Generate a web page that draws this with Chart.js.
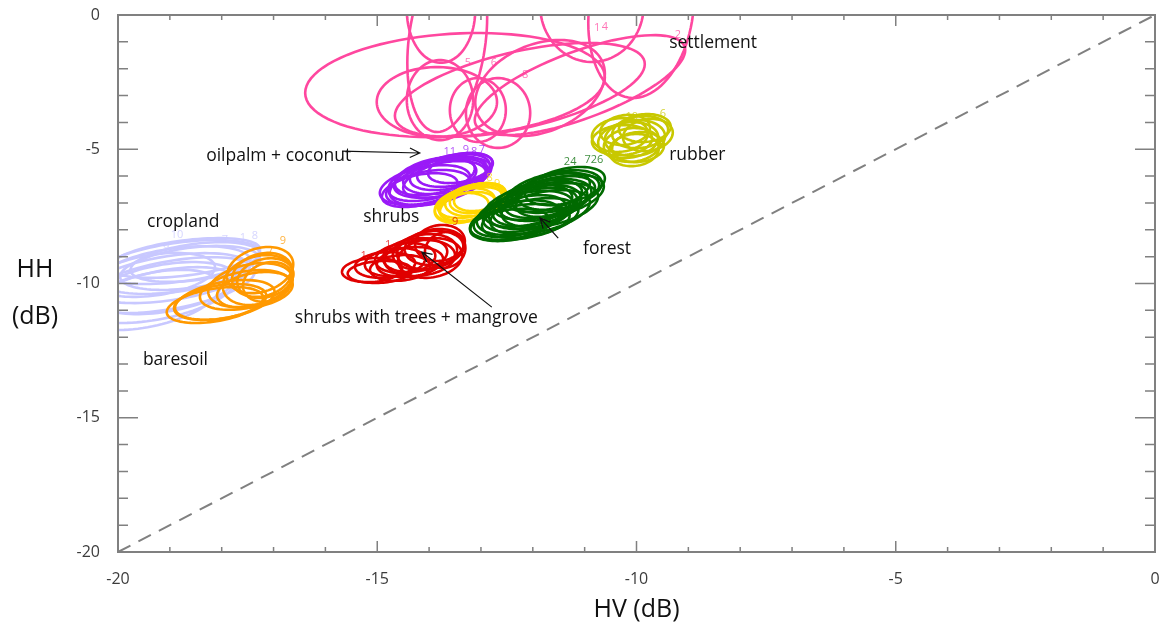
<!DOCTYPE html>
<html>
<head>
<meta charset="utf-8">
<script src="https://cdn.jsdelivr.net/npm/chart.js@4.4.1/dist/chart.umd.min.js"></script>
<style>
  html, body { margin: 0; padding: 0; background: #fff; }
  #wrap { width: 1159px; height: 630px; }
</style>
</head>
<body>
<div id="wrap"><canvas id="scatterChart" width="1159" height="630"></canvas></div>
<script>
// ellipse rows: [HV centre, HH centre, HV spread, HH spread, correlation]
const settlement = [
  [-13.50, -2.61, 2.89, 1.94, 0.15],
  [-11.09, -2.61, 2.03, 1.86, 0.70],
  [-12.25, -2.79, 2.41, 1.75, 0.55],
  [-13.77, 0.19, 0.66, 1.97, 0.00],
  [-13.65, -0.93, 0.77, 3.43, 0.25],
  [-10.86, 0.37, 1.00, 2.12, 0.00],
  [-9.91, 0.19, 1.02, 3.28, 0.15],
  [-13.85, -3.24, 1.16, 1.30, 0.00],
  [-13.79, -3.17, 0.64, 1.49, 0.00],
  [-12.67, -3.65, 0.62, 1.30, 0.00],
  [-13.06, -3.54, 0.54, 1.19, 0.00],
  [-11.86, -2.72, 1.25, 1.79, 0.30]
];
const oilpalm = [
  [-14.08, -6.33, 0.87, 0.74, 0.40],
  [-13.94, -6.15, 0.85, 0.78, 0.45],
  [-13.79, -6.07, 0.89, 0.74, 0.40],
  [-13.69, -5.96, 0.81, 0.71, 0.35],
  [-13.60, -5.85, 0.77, 0.67, 0.40],
  [-13.83, -6.26, 0.93, 0.82, 0.45],
  [-14.02, -6.44, 0.81, 0.67, 0.35],
  [-13.50, -5.77, 0.73, 0.63, 0.40],
  [-13.65, -6.07, 0.85, 0.74, 0.50],
  [-13.89, -6.00, 0.77, 0.71, 0.40],
  [-13.40, -5.70, 0.62, 0.56, 0.35],
  [-14.18, -6.52, 0.73, 0.63, 0.40]
];
const shrubs = [
  [-13.31, -7.08, 0.58, 0.63, 0.30],
  [-13.21, -6.96, 0.62, 0.60, 0.35],
  [-13.11, -6.89, 0.58, 0.60, 0.25],
  [-13.25, -7.15, 0.54, 0.56, 0.30],
  [-13.06, -6.82, 0.54, 0.56, 0.30],
  [-13.37, -7.19, 0.52, 0.56, 0.25],
  [-13.17, -7.04, 0.64, 0.63, 0.35],
  [-13.02, -6.78, 0.50, 0.52, 0.30]
];
const forest = [
  [-12.34, -7.64, 0.87, 0.74, 0.40],
  [-12.25, -7.49, 0.89, 0.78, 0.45],
  [-12.15, -7.37, 0.93, 0.82, 0.40],
  [-12.05, -7.26, 0.91, 0.82, 0.45],
  [-11.96, -7.15, 0.89, 0.82, 0.40],
  [-11.86, -7.04, 0.91, 0.82, 0.45],
  [-11.76, -6.89, 0.89, 0.78, 0.40],
  [-11.67, -6.78, 0.87, 0.78, 0.45],
  [-11.57, -6.63, 0.85, 0.74, 0.40],
  [-11.48, -6.52, 0.81, 0.74, 0.35],
  [-11.38, -6.37, 0.77, 0.71, 0.40],
  [-12.25, -7.71, 0.96, 0.67, 0.35],
  [-12.05, -7.56, 0.93, 0.74, 0.40],
  [-11.86, -7.34, 0.96, 0.82, 0.45],
  [-11.67, -7.08, 0.93, 0.82, 0.40],
  [-11.48, -6.74, 0.85, 0.78, 0.45],
  [-12.44, -7.82, 0.77, 0.60, 0.30],
  [-11.90, -6.89, 0.85, 0.74, 0.40],
  [-11.71, -6.59, 0.81, 0.74, 0.45],
  [-12.09, -7.11, 0.85, 0.78, 0.40]
];
const mangrove = [
  [-15.10, -9.50, 0.58, 0.45, 0.15],
  [-14.85, -9.31, 0.58, 0.48, 0.15],
  [-14.66, -9.20, 0.58, 0.52, 0.20],
  [-14.46, -9.05, 0.58, 0.56, 0.15],
  [-14.27, -8.94, 0.62, 0.63, 0.20],
  [-14.08, -8.83, 0.62, 0.67, 0.15],
  [-13.98, -8.75, 0.64, 0.71, 0.20],
  [-13.89, -8.64, 0.58, 0.67, 0.15],
  [-13.79, -8.49, 0.48, 0.67, 0.10],
  [-14.18, -9.05, 0.68, 0.67, 0.15],
  [-14.37, -9.20, 0.64, 0.56, 0.20],
  [-14.56, -9.42, 0.58, 0.48, 0.15],
  [-13.98, -9.05, 0.62, 0.74, 0.15],
  [-13.69, -8.75, 0.39, 0.67, 0.10],
  [-14.95, -9.57, 0.62, 0.41, 0.15]
];
const rubber = [
  [-10.32, -4.47, 0.54, 0.63, 0.10],
  [-10.16, -4.66, 0.58, 0.67, 0.15],
  [-10.03, -4.58, 0.58, 0.67, 0.10],
  [-9.93, -4.36, 0.54, 0.60, 0.15],
  [-9.84, -4.21, 0.50, 0.52, 0.10],
  [-10.09, -4.84, 0.54, 0.63, 0.10],
  [-10.22, -4.28, 0.48, 0.56, 0.15],
  [-9.97, -4.92, 0.50, 0.56, 0.10],
  [-9.78, -4.47, 0.48, 0.60, 0.15],
  [-10.28, -4.66, 0.58, 0.56, 0.10],
  [-10.05, -5.03, 0.48, 0.60, 0.10]
];
const cropland = [
  [-18.80, -9.20, 1.54, 0.82, 0.45],
  [-18.90, -9.50, 1.45, 0.89, 0.40],
  [-19.00, -9.80, 1.54, 0.93, 0.45],
  [-19.09, -10.17, 1.35, 0.97, 0.40],
  [-18.71, -9.05, 1.45, 0.74, 0.45],
  [-19.19, -10.43, 1.45, 1.04, 0.50],
  [-18.61, -9.42, 1.35, 0.82, 0.40],
  [-19.38, -10.61, 1.35, 1.12, 0.45],
  [-18.51, -9.20, 1.25, 0.74, 0.40],
  [-19.00, -10.06, 1.64, 1.04, 0.50],
  [-19.29, -9.68, 1.16, 0.82, 0.35]
];
const baresoil = [
  [-18.13, -10.80, 0.93, 0.67, 0.40],
  [-18.03, -10.69, 0.89, 0.67, 0.35],
  [-17.45, -10.06, 0.81, 0.82, 0.30],
  [-17.30, -9.87, 0.68, 0.93, 0.25],
  [-17.22, -9.68, 0.58, 0.82, 0.20],
  [-17.36, -10.24, 0.73, 0.67, 0.30],
  [-17.16, -9.80, 0.54, 0.74, 0.20],
  [-17.55, -10.24, 0.87, 0.74, 0.35],
  [-17.26, -9.50, 0.64, 0.86, 0.25],
  [-17.94, -10.61, 0.96, 0.74, 0.40],
  [-17.11, -9.94, 0.48, 0.74, 0.20]
];

// small class numbers printed near the ellipses: [text, HV, HH]
const settlementTags = [['1', -10.76, -0.48], ['4', -10.61, -0.45], ['2', -9.20, -0.74], ['5', -13.25, -1.79], ['6', -12.75, -1.79], ['8', -12.15, -2.23]];
const oilpalmTags = [['11', -13.60, -5.10], ['9', -13.29, -5.03], ['8', -13.13, -5.10], ['7', -12.98, -5.03]];
const shrubsTags = [['8', -12.83, -6.07], ['9', -12.69, -6.29]];
const forestTags = [['24', -11.28, -5.47], ['7', -10.94, -5.40], ['26', -10.76, -5.40]];
const mangroveTags = [['1', -15.26, -8.98], ['1', -14.79, -8.57], ['9', -13.50, -7.71]];
const rubberTags = [['10', -10.09, -3.80], ['9', -9.80, -3.84], ['6', -9.49, -3.69]];
const croplandTags = [['10', -18.86, -8.19], ['9', -19.07, -8.68], ['7', -17.94, -8.38], ['1', -17.59, -8.31], ['8', -17.36, -8.23]];
const baresoilTags = [['9', -16.82, -8.42], ['7', -17.07, -8.83]];

// class names and pointer arrows
const notes = [
  ['settlement', -9.37, -1.04],
  ['rubber', -9.37, -5.21],
  ['oilpalm + coconut', -18.30, -5.25],
  ['shrubs', -15.27, -7.52],
  ['cropland', -19.44, -7.71],
  ['forest', -11.03, -8.72],
  ['shrubs with trees + mangrove', -16.59, -11.28],
  ['baresoil', -19.52, -12.85]
];
const arrows = [
  [-15.68, -5.07, -14.18, -5.14],
  [-11.51, -8.31, -11.86, -7.56],
  [-12.79, -10.88, -14.14, -8.83]
];

const axisTicks = [-20, -15, -10, -5, 0];
const diagonal = [{ x: -20, y: -20 }, { x: 0, y: 0 }];

function classSet(label, rows, tags, color) {
  return {
    label: label,
    data: rows.map(r => ({ x: r[0], y: r[1] })),
    ellipses: rows,
    tags: tags,
    borderColor: color,
    pointRadius: 0,
    showLine: false
  };
}

const ellipsePlugin = {
  id: 'ellipses',
  afterDatasetsDraw(chart) {
    const ctx = chart.ctx;
    const xs = chart.scales.x, ys = chart.scales.y;
    const a = chart.chartArea;
    ctx.save();
    ctx.beginPath();
    ctx.rect(a.left, a.top, a.right - a.left, a.bottom - a.top);
    ctx.clip();
    chart.data.datasets.forEach(ds => {
      if (!ds.ellipses) return;
      ctx.strokeStyle = ds.borderColor;
      ctx.lineWidth = 2.6;
      ds.ellipses.forEach(e => {
        const [cx, cy, sx, sy, r] = e;
        const q = Math.sqrt(1 - r * r);
        ctx.beginPath();
        for (let k = 0; k <= 90; k++) {
          const t = k / 90 * Math.PI * 2;
          const px = xs.getPixelForValue(cx + sx * Math.cos(t));
          const py = ys.getPixelForValue(cy + sy * (r * Math.cos(t) + q * Math.sin(t)));
          if (k === 0) ctx.moveTo(px, py); else ctx.lineTo(px, py);
        }
        ctx.closePath();
        ctx.stroke();
      });
      ctx.fillStyle = ds.borderColor;
      ctx.globalAlpha = 0.75;
      ctx.font = "11px 'Open Sans'";
      ctx.textAlign = 'center';
      ctx.textBaseline = 'middle';
      ds.tags.forEach(t => ctx.fillText(t[0], xs.getPixelForValue(t[1]), ys.getPixelForValue(t[2])));
      ctx.globalAlpha = 1;
    });
    ctx.restore();

    // labels and arrows
    ctx.save();
    ctx.fillStyle = '#111';
    ctx.font = "17.5px 'Open Sans'";
    ctx.textAlign = 'left';
    ctx.textBaseline = 'middle';
    notes.forEach(n => ctx.fillText(n[0], xs.getPixelForValue(n[1]), ys.getPixelForValue(n[2])));
    ctx.strokeStyle = '#111';
    ctx.lineWidth = 1.2;
    arrows.forEach(ar => {
      const x1 = xs.getPixelForValue(ar[0]), y1 = ys.getPixelForValue(ar[1]);
      const x2 = xs.getPixelForValue(ar[2]), y2 = ys.getPixelForValue(ar[3]);
      const ang = Math.atan2(y2 - y1, x2 - x1);
      ctx.beginPath();
      ctx.moveTo(x1, y1);
      ctx.lineTo(x2, y2);
      ctx.moveTo(x2 - 11 * Math.cos(ang - 0.45), y2 - 11 * Math.sin(ang - 0.45));
      ctx.lineTo(x2, y2);
      ctx.lineTo(x2 - 11 * Math.cos(ang + 0.45), y2 - 11 * Math.sin(ang + 0.45));
      ctx.stroke();
    });
    ctx.restore();
  },
  afterDraw(chart) {
    const ctx = chart.ctx;
    const xs = chart.scales.x, ys = chart.scales.y;
    const a = chart.chartArea;
    ctx.save();
    ctx.strokeStyle = '#808080';
    ctx.lineWidth = 2;
    ctx.strokeRect(a.left, a.top, a.right - a.left, a.bottom - a.top);
    ctx.lineWidth = 1.5;
    ctx.beginPath();
    for (let v = -20; v <= 0; v++) {
      const major = v % 5 === 0;
      const px = xs.getPixelForValue(v), py = ys.getPixelForValue(v);
      const side = major ? 20 : 10, flat = major ? 11 : 5;
      ctx.moveTo(a.left, py); ctx.lineTo(a.left + side, py);
      ctx.moveTo(a.right, py); ctx.lineTo(a.right - side, py);
      ctx.moveTo(px, a.bottom); ctx.lineTo(px, a.bottom - flat);
      ctx.moveTo(px, a.top); ctx.lineTo(px, a.top + flat);
    }
    ctx.stroke();
    // y axis title, two lines, upright
    ctx.fillStyle = '#111';
    ctx.font = "25px 'Open Sans'";
    ctx.textAlign = 'center';
    ctx.textBaseline = 'middle';
    ctx.fillText('HH', 35, 270);
    ctx.fillText('(dB)', 35, 317);
    ctx.restore();
  }
};

Chart.defaults.font.family = "'Open Sans', sans-serif";

const ctx = document.getElementById('scatterChart').getContext('2d');
const scatterChart = new Chart(ctx, {
  type: 'scatter',
  data: {
    datasets: [
      {
        label: '1:1',
        data: diagonal,
        showLine: true,
        borderColor: '#808080',
        borderWidth: 2,
        borderDash: [14, 9],
        pointRadius: 0
      },
      classSet('settlement', settlement, settlementTags, '#ff479f'),
      classSet('oilpalm + coconut', oilpalm, oilpalmTags, '#9a1af7'),
      classSet('shrubs', shrubs, shrubsTags, '#ffd700'),
      classSet('forest', forest, forestTags, '#006a00'),
      classSet('shrubs with trees + mangrove', mangrove, mangroveTags, '#e00000'),
      classSet('rubber', rubber, rubberTags, '#c8c800'),
      classSet('cropland', cropland, croplandTags, '#c8c8ff'),
      classSet('baresoil', baresoil, baresoilTags, '#ff9900')
    ]
  },
  options: {
    responsive: false,
    animation: false,
    devicePixelRatio: 1,
    layout: { padding: { top: 15, right: 4, left: 0, bottom: 0 } },
    plugins: { legend: { display: false }, tooltip: { enabled: false } },
    scales: {
      x: {
        type: 'linear',
        min: -20,
        max: 0,
        afterFit: s => { s.height = 78; s.paddingLeft = 0; s.paddingRight = 0; },
        afterBuildTicks: s => { s.ticks = axisTicks.map(v => ({ value: v })); },
        ticks: { color: '#3c3c3c', font: { size: 16 }, padding: 18, maxRotation: 0 },
        grid: { display: false, drawTicks: false },
        border: { display: false },
        title: { display: true, text: 'HV (dB)', color: '#111', font: { size: 25 }, padding: { top: 0, bottom: 5 } }
      },
      y: {
        type: 'linear',
        min: -20,
        max: 0,
        afterFit: s => { s.width = 118; s.paddingTop = 0; s.paddingBottom = 0; },
        afterBuildTicks: s => { s.ticks = axisTicks.map(v => ({ value: v })); },
        ticks: { color: '#3c3c3c', font: { size: 16 }, padding: 18 },
        grid: { display: false, drawTicks: false },
        border: { display: false }
      }
    }
  },
  plugins: [ellipsePlugin]
});
</script>
</body>
</html>
